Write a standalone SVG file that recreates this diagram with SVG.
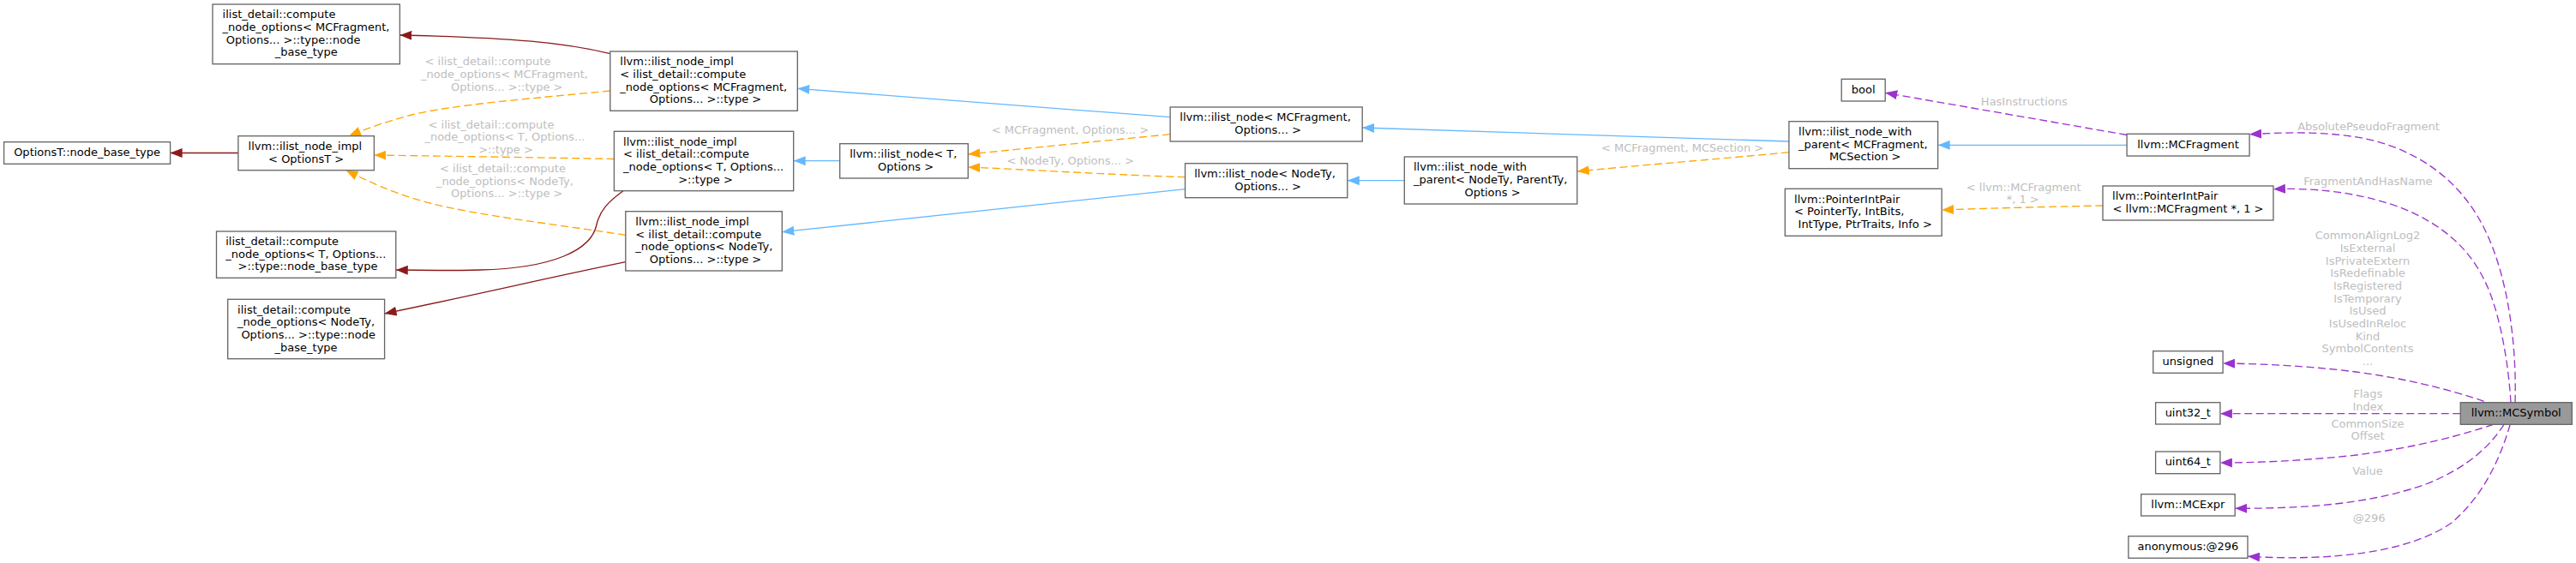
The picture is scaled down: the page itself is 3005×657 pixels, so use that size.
<svg xmlns="http://www.w3.org/2000/svg" width="3005" height="657" viewBox="0 0 3005 657">
<style>
text{font-family:"DejaVu Sans",sans-serif;font-size:13px;fill:#000}
.c{text-anchor:middle}
.l{fill:#bebebe}
.n rect{fill:#fff;stroke:#666;stroke-width:1.33}
.n rect.g{fill:#999}
.e{fill:none;stroke-width:1.33}
.red{stroke:#8b1a1a;marker-end:url(#mr)}
.blue{stroke:#63b8ff;marker-end:url(#mb)}
.orange{stroke:#ffa500;stroke-dasharray:9,4.5;marker-end:url(#mo)}
.purple{stroke:#9a32cd;stroke-dasharray:9,4.5;marker-end:url(#mp)}
</style>
<defs>
<marker id="mr" viewBox="0 0 14 11" refX="14" refY="5.5" markerWidth="14" markerHeight="11" markerUnits="userSpaceOnUse" orient="auto"><path d="M0,0 L14,5.5 L0,11 z" fill="#8b1a1a"/></marker>
<marker id="mb" viewBox="0 0 14 11" refX="14" refY="5.5" markerWidth="14" markerHeight="11" markerUnits="userSpaceOnUse" orient="auto"><path d="M0,0 L14,5.5 L0,11 z" fill="#63b8ff"/></marker>
<marker id="mo" viewBox="0 0 14 11" refX="14" refY="5.5" markerWidth="14" markerHeight="11" markerUnits="userSpaceOnUse" orient="auto"><path d="M0,0 L14,5.5 L0,11 z" fill="#ffa500"/></marker>
<marker id="mp" viewBox="0 0 14 11" refX="14" refY="5.5" markerWidth="14" markerHeight="11" markerUnits="userSpaceOnUse" orient="auto"><path d="M0,0 L14,5.5 L0,11 z" fill="#9a32cd"/></marker>
</defs>
<rect width="3005" height="657" fill="#fff"/>

<g id="connectors">
<path class="e red" d="M277.9,178.5 L198.6,178.5"/>
<path class="e red" d="M711.8,62.7 C660,50 600,44 466.4,41"/>
<path class="e red" d="M727,222.7 C710,235 700,245 696,262 C690,292 645,313 560,315 C520,316 490,315.5 461.8,315"/>
<path class="e red" d="M729.8,305.7 C640,324 560,343 448.6,366"/>

<path class="e orange" d="M711.8,106 C620,115 530,122 480,134 C450,142 425,151 407.1,158.7"/>
<path class="e orange" d="M716.4,185.5 C640,184 540,182.5 436.4,181"/>
<path class="e orange" d="M729.8,274.3 C650,262 560,252 500,236.7 C460,226 430,212 403.6,198.7"/>
<path class="e orange" d="M1365.1,156.7 C1280,165 1200,173 1129.3,180"/>
<path class="e orange" d="M1382.5,206.7 C1300,204 1200,198 1129.3,195"/>
<path class="e orange" d="M2086.9,177.7 C2000,186 1900,194 1839.8,200"/>
<path class="e orange" d="M2453,240 C2400,241 2320,243 2265.1,245"/>

<path class="e blue" d="M1365.1,136.7 L930.3,103.3"/>
<path class="e blue" d="M979.7,187.7 L925.7,187.7"/>
<path class="e blue" d="M1382.5,220.7 L912.3,270.7"/>
<path class="e blue" d="M2086.9,165 L1589.2,149"/>
<path class="e blue" d="M1638.3,210.7 L1571.8,210.7"/>
<path class="e blue" d="M2481.1,169.3 L2260.6,169.3"/>

<path class="e purple" d="M2481.1,157.5 L2199.2,108.3"/>
<path class="e purple" d="M2934,469.7 C2936,400 2925,320 2898,266.7 C2870,210 2820,175 2760,162 C2710,152 2660,155 2624.1,156.7"/>
<path class="e purple" d="M2929,469.7 C2926,420 2915,360 2898,326.7 C2880,290 2850,262 2800,242 C2750,224 2700,219 2651.9,220.7"/>
<path class="e purple" d="M2897.6,468.3 C2860,455 2800,440 2740,433 C2690,427 2640,424.5 2593.1,424"/>
<path class="e purple" d="M2870.2,482.7 L2589.9,482.7"/>
<path class="e purple" d="M2908.4,495.3 C2880,505 2820,523 2740,532 C2680,538 2630,540 2589.9,540"/>
<path class="e purple" d="M2921,495.3 C2905,520 2880,545 2830,565 C2760,590 2680,593.3 2607.2,593.3"/>
<path class="e purple" d="M2928.2,495.3 C2915,540 2895,580 2860,610 C2810,645 2720,655 2622,649.3"/>

<text class="l" x="495.5" y="76.3">&lt; ilist_detail::compute</text>
<text class="l" x="491" y="91">_node_options&lt; MCFragment,</text>
<text class="l c" x="591.3" y="105.6">Options... &gt;::type &gt;</text>
<text class="l" x="499.5" y="149.5">&lt; ilist_detail::compute</text>
<text class="l" x="495.4" y="164.2">_node_options&lt; T, Options...</text>
<text class="l c" x="590" y="178.8">&gt;::type &gt;</text>
<text class="l" x="513" y="201">&lt; ilist_detail::compute</text>
<text class="l" x="508.9" y="215.7">_node_options&lt; NodeTy,</text>
<text class="l c" x="591.3" y="230.4">Options... &gt;::type &gt;</text>
<text class="l c" x="1248.4" y="156">&lt; MCFragment, Options... &gt;</text>
<text class="l c" x="1248.8" y="191.7">&lt; NodeTy, Options... &gt;</text>
<text class="l c" x="1962.7" y="177">&lt; MCFragment, MCSection &gt;</text>
<text class="l c" x="2361.3" y="122.7">HasInstructions</text>
<text class="l c" x="2360.7" y="222.7">&lt; llvm::MCFragment</text>
<text class="l c" x="2359.7" y="236.7">*, 1 &gt;</text>
<text class="l c" x="2763" y="151.7">AbsolutePseudoFragment</text>
<text class="l c" x="2762.4" y="216">FragmentAndHasName</text>
<text class="l c" x="2762" y="279.3">CommonAlignLog2</text>
<text class="l c" x="2762" y="294">IsExternal</text>
<text class="l c" x="2762" y="308.7">IsPrivateExtern</text>
<text class="l c" x="2762" y="323.3">IsRedefinable</text>
<text class="l c" x="2762" y="338">IsRegistered</text>
<text class="l c" x="2762" y="352.7">IsTemporary</text>
<text class="l c" x="2762" y="367.3">IsUsed</text>
<text class="l c" x="2762" y="382">IsUsedInReloc</text>
<text class="l c" x="2762" y="396.7">Kind</text>
<text class="l c" x="2762" y="411.3">SymbolContents</text>
<text class="l c" x="2762" y="426">...</text>
<text class="l c" x="2762.3" y="464.3">Flags</text>
<text class="l c" x="2762.3" y="478.6">Index</text>
<text class="l c" x="2762" y="498.7">CommonSize</text>
<text class="l c" x="2762" y="512.7">Offset</text>
<text class="l c" x="2762" y="554.3">Value</text>
<text class="l c" x="2763.6" y="609.3">@296</text>
</g>

<g id="n1" class="n"><rect x="248" y="5" width="218.4" height="69.7"/>
<text x="259.6" y="21.4">ilist_detail::compute</text>
<text x="259.6" y="36">_node_options&lt; MCFragment,</text>
<text x="263.8" y="50.7">Options... &gt;::type::node</text>
<text class="c" x="357.2" y="65.4">_base_type</text></g>

<g id="n2" class="n"><rect x="4.6" y="165.7" width="194" height="25.6"/>
<text class="c" x="101.6" y="182">OptionsT::node_base_type</text></g>

<g id="n3" class="n"><rect x="277.9" y="158.7" width="158.5" height="40"/>
<text x="289.6" y="174.9">llvm::ilist_node_impl</text>
<text class="c" x="357.2" y="189.5">&lt; OptionsT &gt;</text></g>

<g id="n4" class="n"><rect x="252.5" y="270" width="209.3" height="54.3"/>
<text x="263.2" y="286">ilist_detail::compute</text>
<text x="263.2" y="300.7">_node_options&lt; T, Options...</text>
<text class="c" x="359" y="315.3">&gt;::type::node_base_type</text></g>

<g id="n5" class="n"><rect x="265.7" y="349.3" width="182.9" height="69.4"/>
<text x="277.1" y="365.5">ilist_detail::compute</text>
<text x="277.1" y="380.2">_node_options&lt; NodeTy,</text>
<text x="281.4" y="394.8">Options... &gt;::type::node</text>
<text class="c" x="357.1" y="409.5">_base_type</text></g>

<g id="n6" class="n"><rect x="711.8" y="60" width="218.5" height="69.3"/>
<text x="723.3" y="76.2">llvm::ilist_node_impl</text>
<text x="723.3" y="90.8">&lt; ilist_detail::compute</text>
<text x="723.3" y="105.5">_node_options&lt; MCFragment,</text>
<text class="c" x="823" y="120.2">Options... &gt;::type &gt;</text></g>

<g id="n7" class="n"><rect x="716.4" y="153.3" width="209.3" height="69.4"/>
<text x="727.1" y="169.5">llvm::ilist_node_impl</text>
<text x="727.1" y="184.2">&lt; ilist_detail::compute</text>
<text x="727.1" y="198.8">_node_options&lt; T, Options...</text>
<text class="c" x="823" y="213.5">&gt;::type &gt;</text></g>

<g id="n8" class="n"><rect x="979.7" y="167.7" width="149.6" height="40.3"/>
<text x="991.2" y="184">llvm::ilist_node&lt; T,</text>
<text class="c" x="1056.5" y="198.7">Options &gt;</text></g>

<g id="n9" class="n"><rect x="729.8" y="246.7" width="182.5" height="69.3"/>
<text x="741.3" y="262.9">llvm::ilist_node_impl</text>
<text x="741.3" y="277.5">&lt; ilist_detail::compute</text>
<text x="741.3" y="292.2">_node_options&lt; NodeTy,</text>
<text class="c" x="823" y="306.9">Options... &gt;::type &gt;</text></g>

<g id="n10" class="n"><rect x="1365.1" y="125" width="224.1" height="40"/>
<text x="1376.3" y="141.2">llvm::ilist_node&lt; MCFragment,</text>
<text class="c" x="1479" y="155.8">Options... &gt;</text></g>

<g id="n11" class="n"><rect x="1382.5" y="190.7" width="189.3" height="40"/>
<text x="1393.2" y="206.9">llvm::ilist_node&lt; NodeTy,</text>
<text class="c" x="1479" y="221.5">Options... &gt;</text></g>

<g id="n12" class="n"><rect x="1638.3" y="183" width="201.5" height="55"/>
<text x="1649" y="199.3">llvm::ilist_node_with</text>
<text x="1649" y="214">_parent&lt; NodeTy, ParentTy,</text>
<text class="c" x="1741" y="228.7">Options &gt;</text></g>

<g id="n13" class="n"><rect x="2148.2" y="92.3" width="51" height="25.7"/>
<text class="c" x="2173.7" y="108.7">bool</text></g>

<g id="n14" class="n"><rect x="2086.9" y="141.7" width="173.7" height="55"/>
<text x="2098.1" y="158">llvm::ilist_node_with</text>
<text x="2098.1" y="172.7">_parent&lt; MCFragment,</text>
<text class="c" x="2175.7" y="187.4">MCSection &gt;</text></g>

<g id="n15" class="n"><rect x="2082.3" y="220.3" width="182.8" height="55"/>
<text x="2093.1" y="236.6">llvm::PointerIntPair</text>
<text x="2093.1" y="251.3">&lt; PointerTy, IntBits,</text>
<text class="c" x="2175.7" y="266">IntType, PtrTraits, Info &gt;</text></g>

<g id="n16" class="n"><rect x="2481.1" y="156.3" width="143" height="25.7"/>
<text class="c" x="2552.6" y="172.7">llvm::MCFragment</text></g>

<g id="n17" class="n"><rect x="2453" y="217" width="198.9" height="40"/>
<text x="2464.1" y="233.2">llvm::PointerIntPair</text>
<text class="c" x="2552.5" y="247.8">&lt; llvm::MCFragment *, 1 &gt;</text></g>

<g id="n18" class="n"><rect x="2511.7" y="409.7" width="81.4" height="25.6"/>
<text class="c" x="2552.4" y="426">unsigned</text></g>

<g id="n19" class="n"><rect x="2514.6" y="469.7" width="75.3" height="25.3"/>
<text class="c" x="2552.3" y="485.9">uint32_t</text></g>

<g id="n20" class="n"><rect class="g" x="2870.2" y="469.7" width="130.1" height="25.6"/>
<text class="c" x="2935.2" y="486">llvm::MCSymbol</text></g>

<g id="n21" class="n"><rect x="2514.6" y="527" width="75.3" height="25.7"/>
<text class="c" x="2552.3" y="543.4">uint64_t</text></g>

<g id="n22" class="n"><rect x="2497.7" y="576.7" width="109.5" height="25.3"/>
<text class="c" x="2552.4" y="592.9">llvm::MCExpr</text></g>

<g id="n23" class="n"><rect x="2482.9" y="625.7" width="139.1" height="25.6"/>
<text class="c" x="2552.4" y="642">anonymous:@296</text></g>
</svg>
